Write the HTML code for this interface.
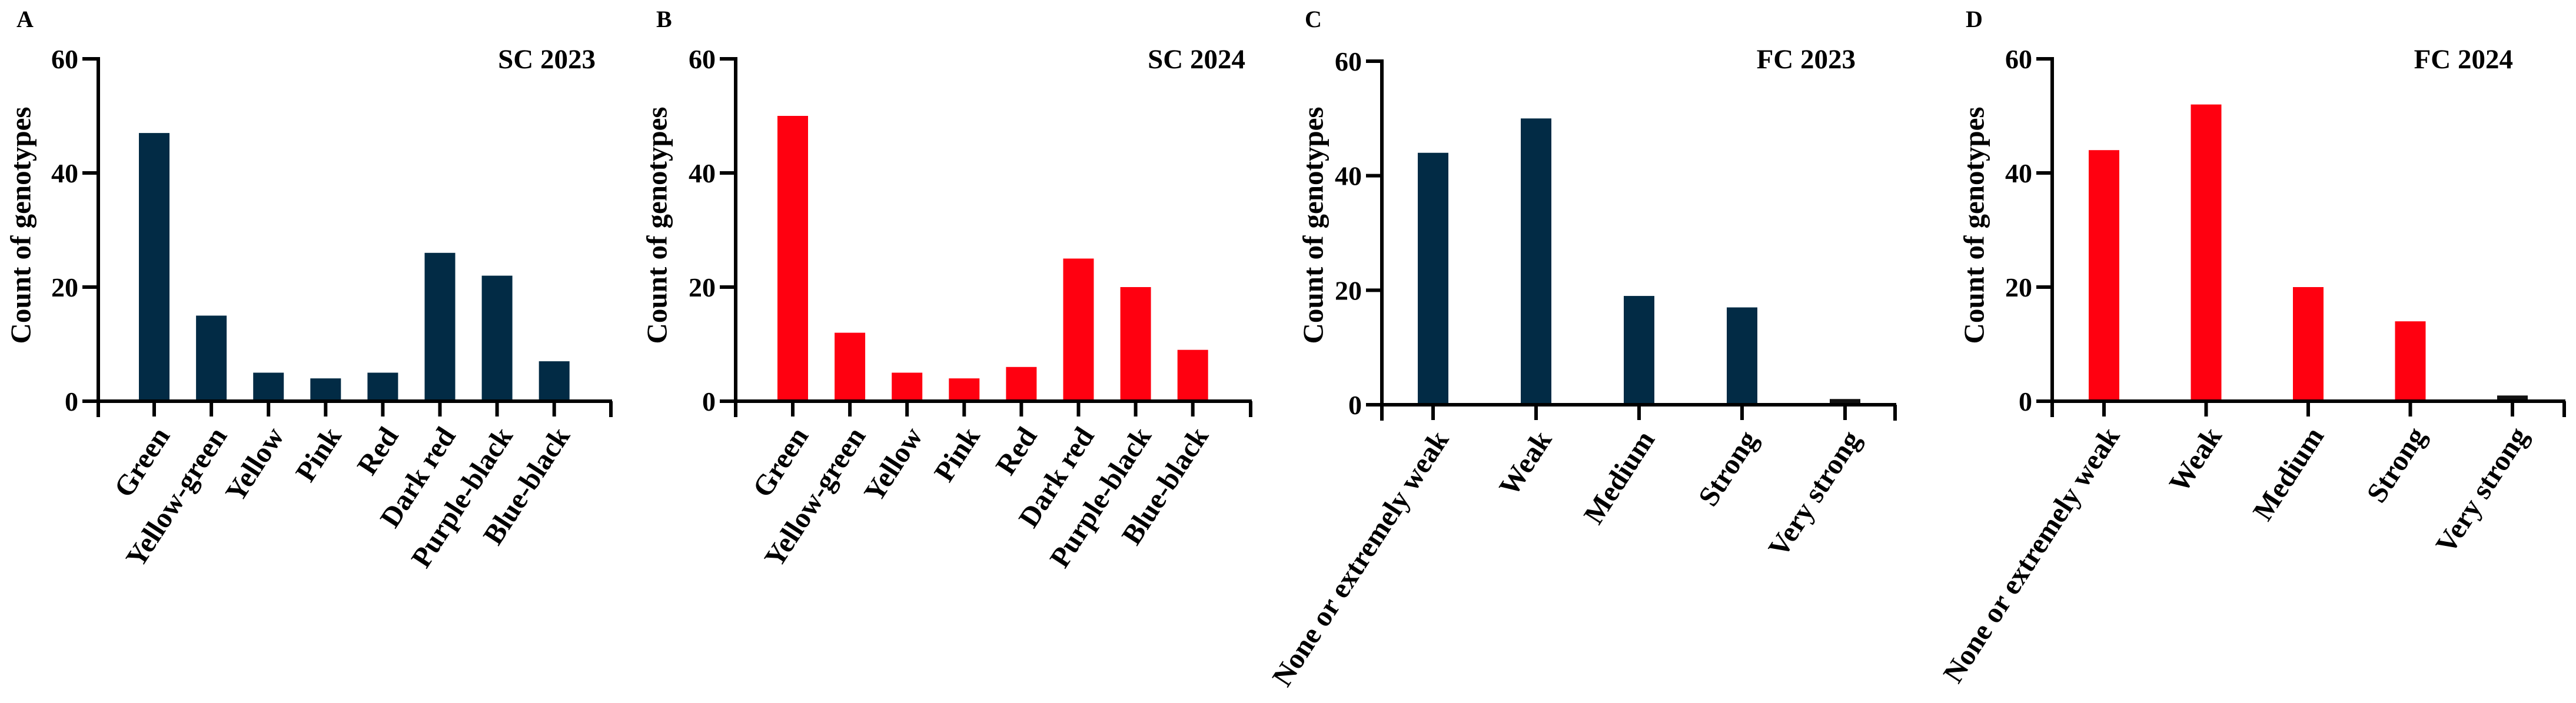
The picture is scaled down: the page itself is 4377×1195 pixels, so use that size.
<!DOCTYPE html>
<html><head><meta charset="utf-8"><style>
html,body{margin:0;padding:0;background:#fff;}
svg{display:block;}
text{font-family:"Liberation Serif",serif;font-weight:bold;fill:#000;}
</style></head><body>
<svg id="fig" width="4377" height="1195" viewBox="0 0 4377 1195" xmlns="http://www.w3.org/2000/svg"></svg>
<script>
const colorCats = ["Green","Yellow-green","Yellow","Pink","Red","Dark red","Purple-black","Blue-black"];
const fragCats = ["None or extremely weak","Weak","Medium","Strong","Very strong"];
const sc2023 = [47,15,5,4,5,26,22,7];
const sc2024 = [50,12,5,4,6,25,20,9];
const fc2023 = [44,50,19,17,1];
const fc2024 = [44,52,20,14,1];
const yTicks = [0,20,40,60];
const NS="http://www.w3.org/2000/svg";
const svg=document.getElementById('fig');
function el(tag,attrs,parent){const e=document.createElementNS(NS,tag);for(const k in attrs)e.setAttribute(k,attrs[k]);(parent||svg).appendChild(e);return e;}
const panels=[
 {id:'a',letter:'A',lx:28,title:'SC 2023',tx:1012,ax:167,aend:1040,y0:682,y60:100,t0:262,step:97.1,cats:colorCats,vals:sc2023,col:'#022b45',ytx:35},
 {id:'b',letter:'B',lx:1115,title:'SC 2024',tx:2116,ax:1250,aend:2127,y0:682,y60:100,t0:1347,step:97.1,cats:colorCats,vals:sc2024,col:'#ff0010',ytx:1116},
 {id:'c',letter:'C',lx:2217,title:'FC 2023',tx:3153,ax:2348,aend:3222,y0:688,y60:104,t0:2435,step:175,cats:fragCats,vals:fc2023,col:'#022b45',ytx:2231},
 {id:'d',letter:'D',lx:3340,title:'FC 2024',tx:4270,ax:3487,aend:4359,y0:682,y60:100,t0:3575,step:173.5,cats:fragCats,vals:fc2024,col:'#ff0010',ytx:3354}
];
panels.forEach(p=>{
 const g=el('g',{});
 
 
 const ys=v=>p.y0-(p.y0-p.y60)*v/60;
 const L=el('text',{x:p.lx,y:46,'font-size':40},g);L.textContent=p.letter;
 
 
 const T=el('text',{x:p.tx,y:116,'font-size':47,'text-anchor':'end'},g);T.textContent=p.title;
 
 
 const yt=el('text',{x:p.ytx,y:383,'font-size':49,'text-anchor':'middle','dominant-baseline':'central',transform:`rotate(-90 ${p.ytx} 383)`},g);yt.textContent='Count of genotypes';
 
 
 p.vals.forEach((v,i)=>{
  const cx=p.t0+p.step*i;
  const last=(i===p.vals.length-1 && p.cats===fragCats);
  const r=el('rect',{x:cx-26,y:ys(v),width:52,height:p.y0-ys(v),fill:last?'#111':p.col},g);
  
  
 });
 const ya=el('line',{x1:p.ax,y1:p.y60-3,x2:p.ax,y2:p.y0+27,stroke:'#000','stroke-width':6},g);
 
 
 const xa=el('line',{x1:p.ax,y1:p.y0,x2:p.aend,y2:p.y0,stroke:'#000','stroke-width':6},g);
 
 
 const endTick=el('line',{x1:p.aend-2,y1:p.y0,x2:p.aend-2,y2:p.y0+27,stroke:'#000','stroke-width':6},g);
 
 
 yTicks.forEach(t=>{
  const y=ys(t);
  const tl=el('line',{x1:p.ax-27,y1:y,x2:p.ax,y2:y,stroke:'#000','stroke-width':6},g);
  
  
  const tx=el('text',{x:p.ax-34,y:y+16,'font-size':46,'text-anchor':'end'},g);tx.textContent=t;
  
  
 });
 p.cats.forEach((c,i)=>{
  const cx=p.t0+p.step*i;
  const tl=el('line',{x1:cx,y1:p.y0,x2:cx,y2:p.y0+26,stroke:'#000','stroke-width':6},g);
  
  
  const ax=cx+28, ay=p.y0+58;
  const tx=el('text',{x:ax,y:ay,'font-size':49,'text-anchor':'end',transform:`rotate(-57 ${ax} ${ay})`},g);tx.textContent=c;
  
  
 });
});
</script>
</body></html>
